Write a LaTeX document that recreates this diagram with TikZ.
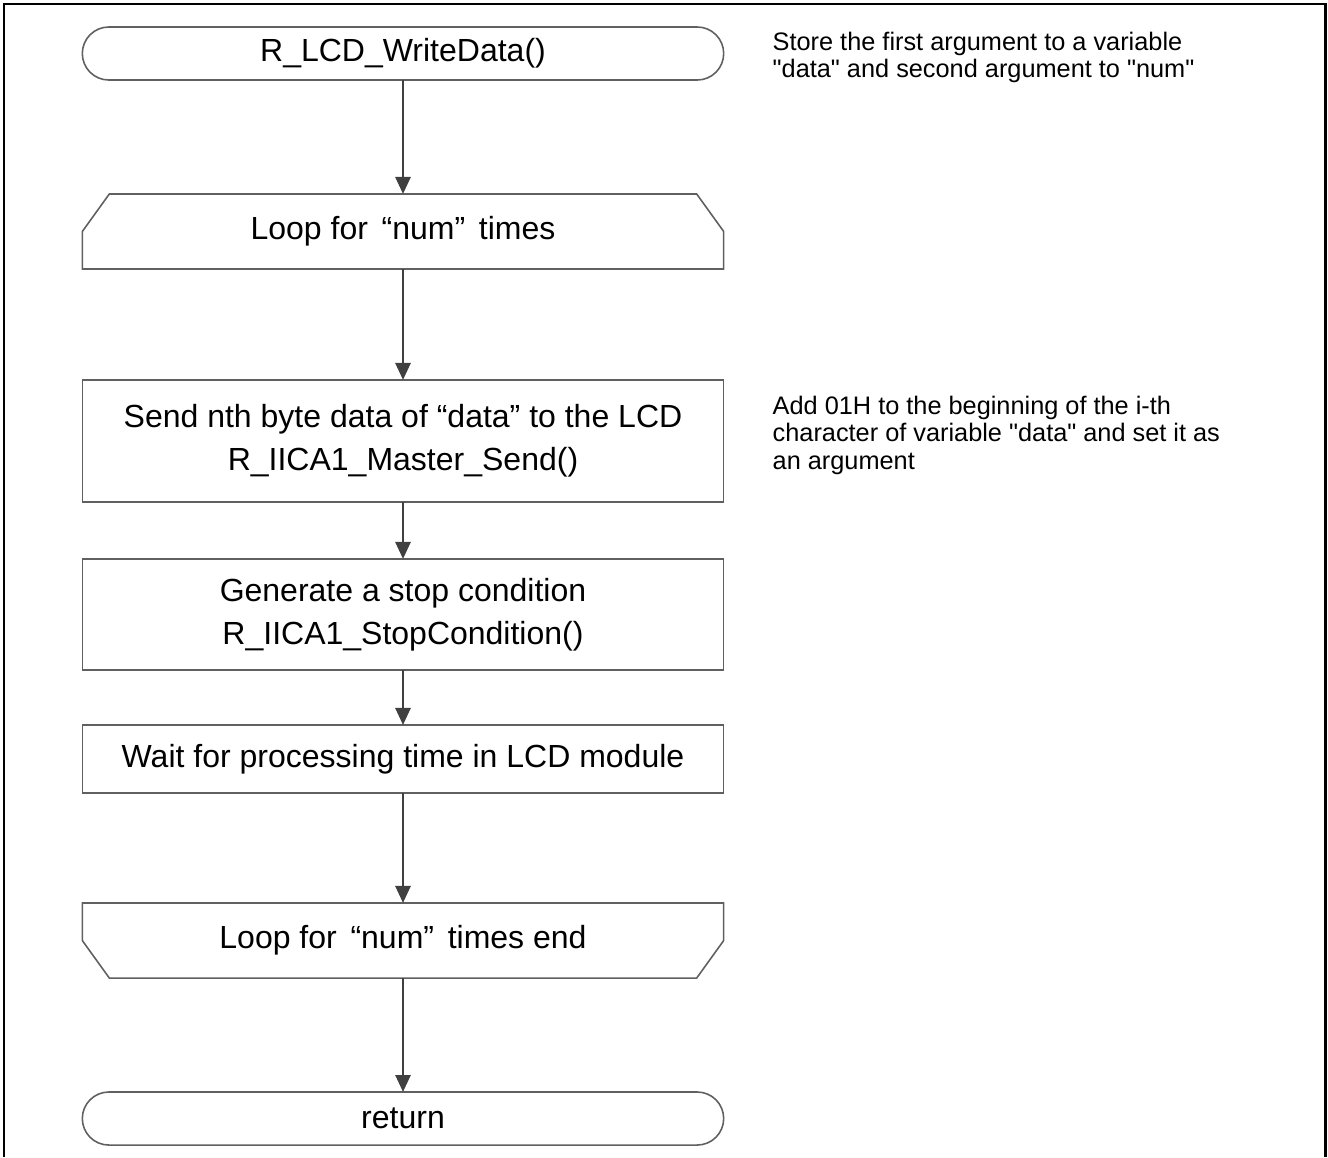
\documentclass[tikz,border=0pt]{standalone}
\usepackage{fontspec}
\setmainfont{Liberation Sans}[Ligatures=TeXOff]
\usepackage{xcolor}
\usepackage{tikz}
\usetikzlibrary{calc}
\usetikzlibrary{arrows.meta}
\usetikzlibrary{positioning}

\definecolor{boxgray}{HTML}{606060}
\definecolor{arrowgray}{HTML}{404040}

\tikzset{
  proc/.style={rectangle, draw=boxgray, line width=0.45pt, minimum width=6.41cm,
    inner sep=0pt, outer sep=0pt, align=center, font=\fontsize{9.1}{12.3}\selectfont},
  term/.style={proc, rounded corners=0.265cm},
  loopbox/.style={rectangle, minimum width=6.41cm, minimum height=0.75cm,
    inner sep=0pt, outer sep=0pt, align=center, font=\fontsize{9.1}{12.3}\selectfont},
  flow/.style={-{Triangle[length=0.17cm,width=0.15cm]}, draw=arrowgray, line width=0.75pt},
  note/.style={anchor=north west, inner sep=0pt, align=left, font=\fontsize{7.2}{7.85}\selectfont}
}

\begin{document}
\begin{tikzpicture}[x=0.01cm, y=-0.01cm]
\useasboundingbox (0,0) rectangle (1328,1157);
\draw [line width=0.85pt, draw=black] (4,1157) -- (4,4) -- (1325,4) -- (1325,1157);

\node [term, minimum height=0.53cm] (start) at (403, 53.5) {R\_LCD\_WriteData()};
\node [loopbox] (loopA) at (403, 231.5) {Loop for\hspace{0.15em} “num”\hspace{0.15em} times};
\node [proc, minimum height=1.22cm] (send) at (403, 441) {Send nth byte data of “data” to the LCD\\R\_IICA1\_Master\_Send()};
\node [proc, minimum height=1.11cm] (stop) at (403, 614.5) {Generate a stop condition\\R\_IICA1\_StopCondition()};
\node [proc, minimum height=0.68cm] (wait) at (403, 759) {Wait for processing time in LCD module};
\node [loopbox] (loopB) at (403, 940.5) {Loop for\hspace{0.15em} “num”\hspace{0.15em} times end};
\node [term, minimum height=0.53cm] (ret) at (403, 1118.5) {return};

% loop limit outlines
\draw [boxgray, line width=0.45pt] (loopA.south west) -- (loopA.west) -- ($(loopA.north west)+(27,0)$)
  -- ($(loopA.north east)+(-27,0)$) -- (loopA.east) -- (loopA.south east) -- cycle;
\draw [boxgray, line width=0.45pt] (loopB.north west) -- (loopB.west) -- ($(loopB.south west)+(27,0)$)
  -- ($(loopB.south east)+(-27,0)$) -- (loopB.east) -- (loopB.north east) -- cycle;

\node [note] (noteA) at (772, 31) {Store the first argument to a variable\\"data" and second argument to "num"};
\node [note] (noteB) at (772, 395) {Add 01H to the beginning of the i-th\\character of variable "data" and set it as\\an argument};

\draw [flow] (start) -- (loopA);
\draw [flow] (loopA) -- (send);
\draw [flow] (send) -- (stop);
\draw [flow] (stop) -- (wait);
\draw [flow] (wait) -- (loopB);
\draw [flow] (loopB) -- (ret);
\end{tikzpicture}
\end{document}
